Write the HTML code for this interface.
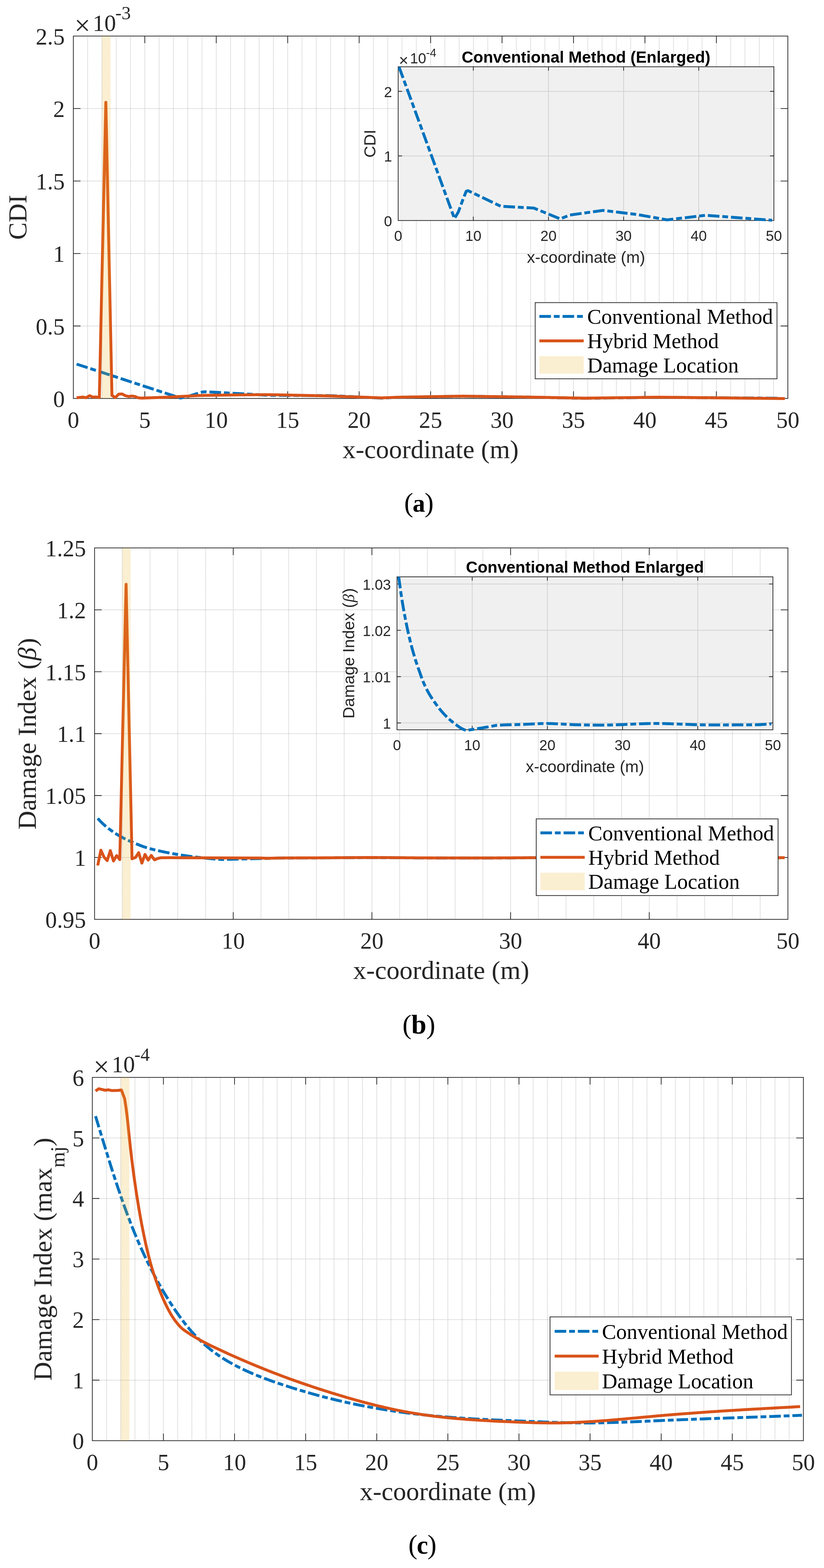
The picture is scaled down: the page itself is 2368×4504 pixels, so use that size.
<!DOCTYPE html>
<html lang="en"><head><meta charset="utf-8"><title>Damage index comparison</title>
<style>
html,body{margin:0;padding:0;background:#fff}
body{width:2368px;height:4504px;overflow:hidden}
svg{display:block}
.ser{font-family:"Liberation Serif","Times New Roman",serif}
.san{font-family:"Liberation Sans",Arial,Helvetica,sans-serif}
.tk{fill:#262626}
.ax{fill:none;stroke:#262626}
.gr{fill:none;stroke:#000;stroke-opacity:.135;stroke-width:2}
.mg{fill:none;stroke:#000;stroke-opacity:.25;stroke-width:2.1;stroke-dasharray:2 2.07}
.cap{font-family:"Liberation Serif","Times New Roman",serif;fill:#000}
</style></head><body>
<svg width="2368" height="4504" viewBox="0 0 2368 4504">
<rect width="2368" height="4504" fill="#fff"/>
<g>
<path class="mg" d="M251.87 103.6V1144.6M292.93 103.6V1144.6M334 103.6V1144.6M375.06 103.6V1144.6M457.2 103.6V1144.6M498.26 103.6V1144.6M539.33 103.6V1144.6M580.39 103.6V1144.6M662.53 103.6V1144.6M703.59 103.6V1144.6M744.66 103.6V1144.6M785.72 103.6V1144.6M867.86 103.6V1144.6M908.92 103.6V1144.6M949.99 103.6V1144.6M991.05 103.6V1144.6M1073.19 103.6V1144.6M1114.25 103.6V1144.6M1155.32 103.6V1144.6M1196.38 103.6V1144.6M1278.52 103.6V1144.6M1319.58 103.6V1144.6M1360.65 103.6V1144.6M1401.71 103.6V1144.6M1483.85 103.6V1144.6M1524.91 103.6V1144.6M1565.98 103.6V1144.6M1607.04 103.6V1144.6M1689.18 103.6V1144.6M1730.24 103.6V1144.6M1771.31 103.6V1144.6M1812.37 103.6V1144.6M1894.51 103.6V1144.6M1935.57 103.6V1144.6M1976.64 103.6V1144.6M2017.7 103.6V1144.6M2099.84 103.6V1144.6M2140.9 103.6V1144.6M2181.97 103.6V1144.6M2223.03 103.6V1144.6"/>
<path class="gr" d="M416.13 103.6V1144.6M621.46 103.6V1144.6M826.79 103.6V1144.6M1032.12 103.6V1144.6M1237.45 103.6V1144.6M1442.78 103.6V1144.6M1648.11 103.6V1144.6M1853.44 103.6V1144.6M2058.77 103.6V1144.6M210.8 936.4H2264.1M210.8 728.2H2264.1M210.8 520H2264.1M210.8 311.8H2264.1"/>
<path class="ax" stroke-width="2.1" d="M416.13 1144.6v-20.5M416.13 103.6v20.5M621.46 1144.6v-20.5M621.46 103.6v20.5M826.79 1144.6v-20.5M826.79 103.6v20.5M1032.12 1144.6v-20.5M1032.12 103.6v20.5M1237.45 1144.6v-20.5M1237.45 103.6v20.5M1442.78 1144.6v-20.5M1442.78 103.6v20.5M1648.11 1144.6v-20.5M1648.11 103.6v20.5M1853.44 1144.6v-20.5M1853.44 103.6v20.5M2058.77 1144.6v-20.5M2058.77 103.6v20.5M210.8 936.4h20.5M2264.1 936.4h-20.5M210.8 728.2h20.5M2264.1 728.2h-20.5M210.8 520h20.5M2264.1 520h-20.5M210.8 311.8h20.5M2264.1 311.8h-20.5"/>
<rect class="ax" stroke-width="2.1" x="210.8" y="103.6" width="2053.3" height="1041"/>
<polyline fill="none" stroke="#0072BD" stroke-width="8.3" stroke-linejoin="round" stroke-dasharray="33.3 8.33 16.67 8.33" points="220.13,1045.83 518.38,1143.35 539.74,1139.02 563.97,1131.28 582.45,1125.78 592.71,1125.36 772.17,1135.44 952.04,1136.56 1096.18,1143.56 1148.34,1141.1 1329.85,1138.06 1517.11,1140.73 1680.14,1144.18 1892.04,1141.23 2235.35,1143.98"/>
<polyline fill="none" stroke="#D95319" stroke-width="8.3" stroke-linejoin="round" points="220.12,1142.31 237.9,1140.69 247.76,1142.31 257.45,1136.48 266.81,1140.69 276.09,1140.44 285.46,1142.1 304.14,293.89 321.68,1135.86 331.53,1141.89 341.39,1132.11 350.84,1131.69 359.87,1136.48 369.31,1138.77 378.76,1137.52 387.79,1138.77 397.24,1142.73 406.68,1143.52 479.78,1140.85 583.27,1135.73 683.06,1134.4 761.08,1133.65 799.69,1134.19 949.99,1137.52 1096.59,1142.93 1148.34,1140.94 1329.85,1137.94 1517.11,1140.6 1680.14,1143.77 1791.84,1142.31 1892.04,1141.02 2058.77,1142.73 2255.48,1144.93"/>
<rect x="292.93" y="103.6" width="24.64" height="1041" fill="#EDB120" fill-opacity="0.2"/>
<g class="ser tk" font-size="66.7">
<g text-anchor="middle">
<text x="210.8" y="1228.9">0</text>
<text x="416.13" y="1228.9">5</text>
<text x="621.46" y="1228.9">10</text>
<text x="826.79" y="1228.9">15</text>
<text x="1032.12" y="1228.9">20</text>
<text x="1237.45" y="1228.9">25</text>
<text x="1442.78" y="1228.9">30</text>
<text x="1648.11" y="1228.9">35</text>
<text x="1853.44" y="1228.9">40</text>
<text x="2058.77" y="1228.9">45</text>
<text x="2264.1" y="1228.9">50</text>
</g><g text-anchor="end">
<text x="186" y="1168.7">0</text>
<text x="186" y="960.5">0.5</text>
<text x="186" y="752.3">1</text>
<text x="186" y="544.1">1.5</text>
<text x="186" y="335.9">2</text>
<text x="186" y="127.7">2.5</text>
</g>
<text x="214.1" y="99.6" font-size="81">×</text>
<text x="266.6" y="88.8">10</text>
<text x="331.5" y="55.3" font-size="53.3">-3</text>
</g>
<text class="ser tk" font-size="75" text-anchor="middle" x="1237.45" y="1315.8">x-coordinate (m)</text>
<text class="ser tk" font-size="75" text-anchor="middle" transform="translate(76.1 624.1) rotate(-90)">CDI</text>
</g>
<g>
<rect x="1144.3" y="191.8" width="1079.7" height="441.6" fill="#f0f0f0"/>
<path class="gr" d="M1360.24 191.8V633.4M1576.18 191.8V633.4M1792.12 191.8V633.4M2008.06 191.8V633.4M1144.3 447.9H2224M1144.3 262.4H2224"/>
<path class="ax" stroke-width="2.1" d="M1360.24 633.4v-11.2M1360.24 191.8v11.2M1576.18 633.4v-11.2M1576.18 191.8v11.2M1792.12 633.4v-11.2M1792.12 191.8v11.2M2008.06 633.4v-11.2M2008.06 191.8v11.2M1144.3 447.9h11.2M2224 447.9h-11.2M1144.3 262.4h11.2M2224 262.4h-11.2"/>
<rect class="ax" stroke-width="2.1" x="1144.3" y="191.8" width="1079.7" height="441.6"/>
<polyline fill="none" stroke="#0072BD" stroke-width="8.3" stroke-linejoin="round" stroke-dasharray="33.3 8.33 16.67 8.33" points="1146.89,192.65 1306.04,627.84 1317.27,608.54 1330.01,574.04 1339.73,549.55 1345.12,547.7 1439.49,592.59 1534.07,597.6 1609.87,628.76 1637.29,617.82 1732.74,604.28 1831.21,616.15 1916.93,631.55 2028.36,618.37 2218.6,632.66"/>
<g class="san tk" font-size="41.7">
<g text-anchor="middle">
<text x="1144.3" y="692">0</text>
<text x="1360.24" y="692">10</text>
<text x="1576.18" y="692">20</text>
<text x="1792.12" y="692">30</text>
<text x="2008.06" y="692">40</text>
<text x="2224" y="692">50</text>
</g><g text-anchor="end">
<text x="1126.8" y="649.6">0</text>
<text x="1126.8" y="464.1">1</text>
<text x="1126.8" y="278.6">2</text>
</g>
<text x="1146.3" y="188.9" font-size="46.7">×</text>
<text x="1178.3" y="181.9">10</text>
<text x="1224.3" y="162.7" font-size="33.3">-4</text>
</g>
<text class="san tk" font-size="46.7" text-anchor="middle" x="1684.15" y="754.6">x-coordinate (m)</text>
<text class="san tk" font-size="46.7" text-anchor="middle" transform="translate(1079.1 412.6) rotate(-90)">CDI</text>
<text class="san" font-weight="bold" font-size="46.46" text-anchor="middle" x="1684.15" y="180.2">Conventional Method (Enlarged)</text>
</g>
<g>
<rect x="1538" y="869.3" width="694.9" height="218.8" fill="#fff" stroke="#262626" stroke-width="2.1"/>
<path fill="none" stroke="#0072BD" stroke-width="8.3" stroke-dasharray="33.3 8.33 16.67 8.33" d="M1550 908.9H1677.4"/>
<path fill="none" stroke="#D95319" stroke-width="8.3" d="M1550 979.1H1677.4"/>
<rect x="1550" y="1023.05" width="127.4" height="50.5" fill="#EDB120" fill-opacity="0.2"/>
<g class="ser" fill="#000" font-size="61">
<text x="1687.6" y="930.1">Conventional Method</text>
<text x="1687.6" y="1000.3">Hybrid Method</text>
<text x="1687.6" y="1069.5">Damage Location</text>
</g></g>
<g>
<path class="mg" d="M351.5 1573.9V2640.8M431.2 1573.9V2640.8M510.9 1573.9V2640.8M590.6 1573.9V2640.8M750 1573.9V2640.8M829.7 1573.9V2640.8M909.4 1573.9V2640.8M989.1 1573.9V2640.8M1148.5 1573.9V2640.8M1228.2 1573.9V2640.8M1307.9 1573.9V2640.8M1387.6 1573.9V2640.8M1547 1573.9V2640.8M1626.7 1573.9V2640.8M1706.4 1573.9V2640.8M1786.1 1573.9V2640.8M1945.5 1573.9V2640.8M2025.2 1573.9V2640.8M2104.9 1573.9V2640.8M2184.6 1573.9V2640.8"/>
<path class="gr" d="M670.3 1573.9V2640.8M1068.8 1573.9V2640.8M1467.3 1573.9V2640.8M1865.8 1573.9V2640.8M271.8 2462.98H2264.3M271.8 2285.17H2264.3M271.8 2107.35H2264.3M271.8 1929.53H2264.3M271.8 1751.72H2264.3"/>
<path class="ax" stroke-width="2.1" d="M670.3 2640.8v-20.5M670.3 1573.9v20.5M1068.8 2640.8v-20.5M1068.8 1573.9v20.5M1467.3 2640.8v-20.5M1467.3 1573.9v20.5M1865.8 2640.8v-20.5M1865.8 1573.9v20.5M271.8 2462.98h20.5M2264.3 2462.98h-20.5M271.8 2285.17h20.5M2264.3 2285.17h-20.5M271.8 2107.35h20.5M2264.3 2107.35h-20.5M271.8 1929.53h20.5M2264.3 1929.53h-20.5M271.8 1751.72h20.5M2264.3 1751.72h-20.5"/>
<rect class="ax" stroke-width="2.1" x="271.8" y="1573.9" width="1992.5" height="1066.9"/>
<polyline fill="none" stroke="#0072BD" stroke-width="8.3" stroke-linejoin="round" stroke-dasharray="33.3 8.33 16.67 8.33" points="280.85,2350.78 284.83,2355.14 288.82,2359.3 292.76,2363.29 296.75,2367.09 300.73,2370.68 304.68,2374.1 308.66,2377.34 312.65,2380.44 316.63,2383.42 320.58,2386.33 324.56,2389.17 328.55,2391.89 332.49,2394.48 336.48,2396.97 340.46,2399.36 344.41,2401.66 348.39,2403.88 352.38,2406.02 356.36,2408.09 360.31,2410.09 364.29,2412.01 368.28,2413.88 372.22,2415.69 376.21,2417.45 380.19,2419.14 384.14,2420.79 388.12,2422.41 392.11,2424.03 396.09,2425.67 400.04,2427.32 404.02,2428.92 408.01,2430.43 411.95,2431.83 415.94,2433.16 419.92,2434.44 423.87,2435.65 427.85,2436.81 431.84,2437.93 435.78,2439 439.77,2440.02 443.75,2441.01 447.74,2441.97 451.68,2442.9 455.67,2443.79 459.65,2444.66 463.6,2445.51 467.58,2446.34 471.57,2447.16 475.51,2447.97 479.5,2448.77 483.48,2449.56 487.47,2450.33 491.41,2451.09 495.4,2451.82 499.38,2452.53 503.33,2453.23 507.31,2453.91 511.3,2454.58 515.24,2455.23 519.23,2455.86 523.21,2456.48 527.16,2457.09 531.14,2457.68 535.13,2458.26 539.11,2458.83 543.06,2459.38 547.04,2459.91 551.03,2460.42 554.97,2460.91 558.96,2461.39 562.94,2461.86 566.89,2462.32 570.87,2462.78 574.86,2463.24 578.84,2463.68 582.79,2464.12 586.77,2464.55 590.76,2464.97 594.7,2465.38 598.69,2465.79 602.67,2466.19 606.62,2466.59 610.6,2466.95 614.59,2467.28 618.57,2467.57 622.52,2467.85 626.5,2468.11 630.49,2468.35 634.44,2468.56 638.42,2468.74 648.42,2468.52 658.38,2468.3 668.39,2468.07 678.35,2467.84 688.35,2467.61 698.35,2467.37 708.32,2467.14 718.32,2466.9 728.32,2466.66 738.28,2466.42 748.29,2466.17 758.25,2465.93 768.25,2465.67 778.25,2465.37 788.22,2465.08 798.22,2464.85 808.18,2464.73 818.18,2464.65 828.19,2464.58 838.15,2464.52 848.15,2464.47 858.15,2464.43 868.12,2464.39 878.12,2464.35 888.08,2464.32 898.08,2464.29 908.08,2464.25 918.05,2464.22 928.05,2464.18 938.05,2464.13 948.01,2464.07 958.02,2464.01 967.98,2463.94 977.98,2463.86 987.98,2463.78 997.95,2463.71 1007.95,2463.64 1017.91,2463.57 1027.91,2463.51 1037.92,2463.47 1047.88,2463.43 1057.88,2463.41 1067.88,2463.41 1077.85,2463.43 1087.85,2463.46 1097.81,2463.51 1107.81,2463.56 1117.82,2463.63 1127.78,2463.7 1137.78,2463.78 1147.74,2463.87 1157.75,2463.95 1167.75,2464.03 1177.71,2464.11 1187.71,2464.19 1197.71,2464.26 1207.68,2464.32 1217.68,2464.37 1227.64,2464.4 1237.64,2464.43 1247.65,2464.46 1257.61,2464.49 1267.61,2464.52 1277.61,2464.54 1287.58,2464.57 1297.58,2464.59 1307.54,2464.61 1317.54,2464.62 1327.55,2464.64 1337.51,2464.65 1347.51,2464.65 1357.47,2464.65 1367.48,2464.65 1377.48,2464.63 1387.44,2464.61 1397.44,2464.58 1407.45,2464.55 1417.41,2464.51 1427.41,2464.46 1437.37,2464.41 1447.38,2464.35 1457.38,2464.3 1467.34,2464.24 1477.34,2464.17 1487.3,2464.11 1497.31,2464.04 1507.31,2463.98 1517.27,2463.92 1527.27,2463.85 1537.28,2463.79 1547.24,2463.73 1557.24,2463.68 1567.2,2463.62 1577.21,2463.57 1587.21,2463.53 1597.17,2463.49 1607.17,2463.46 1617.14,2463.44 1627.14,2463.42 1637.14,2463.41 1647.1,2463.41 1657.11,2463.42 1667.11,2463.43 1677.07,2463.45 1687.07,2463.48 1697.04,2463.51 1707.04,2463.55 1717.04,2463.59 1727,2463.64 1737,2463.69 1747.01,2463.74 1756.97,2463.8 1766.97,2463.85 1776.93,2463.91 1786.94,2463.97 1796.94,2464.02 1806.9,2464.08 1816.9,2464.14 1826.87,2464.19 1836.87,2464.24 1846.87,2464.29 1856.83,2464.34 1866.84,2464.38 1876.84,2464.41 1886.8,2464.45 1896.8,2464.47 1906.77,2464.49 1916.77,2464.51 1926.77,2464.51 1936.73,2464.51 1946.74,2464.51 1956.7,2464.51 1966.7,2464.51 1976.7,2464.51 1986.67,2464.51 1996.67,2464.51 2006.67,2464.5 2016.63,2464.5 2026.63,2464.5 2036.6,2464.49 2046.6,2464.49 2056.6,2464.49 2066.56,2464.48 2076.57,2464.48 2086.57,2464.47 2096.53,2464.46 2106.53,2464.46 2116.5,2464.45 2126.5,2464.44 2136.5,2464.43 2146.46,2464.43 2156.47,2464.42 2166.43,2464.41 2176.43,2464.39 2186.43,2464.35 2196.4,2464.29 2206.4,2464.21 2216.4,2464.11 2226.36,2464.01 2236.37,2463.91 2246.33,2463.8"/>
<polyline fill="none" stroke="#D95319" stroke-width="8.3" stroke-linejoin="round" points="280.86,2486.03 289.91,2442.14 298.98,2461.92 308.02,2472.05 317.07,2443.25 326.16,2473.19 335.2,2457.65 344.25,2469.17 362.38,1678.46 379.4,2466.97 389.52,2462.98 398.52,2449.26 407.69,2479.38 416.69,2454.34 425.78,2470.52 434.79,2457.22 443.87,2469.85 452.92,2466.08 461.88,2463.87 490.98,2463.69 590.6,2464.05 670.3,2464.41 750,2464.58 768.25,2465.49 778.25,2465.19 788.22,2464.9 798.22,2464.67 808.18,2464.55 818.18,2464.47 828.19,2464.4 838.15,2464.35 848.15,2464.29 858.15,2464.25 868.12,2464.21 878.12,2464.18 888.08,2464.14 898.08,2464.11 908.08,2464.08 918.05,2464.04 928.05,2464 938.05,2463.95 948.01,2463.89 958.02,2463.83 967.98,2463.76 977.98,2463.68 987.98,2463.61 997.95,2463.53 1007.95,2463.46 1017.91,2463.39 1027.91,2463.34 1037.92,2463.29 1047.88,2463.25 1057.88,2463.23 1067.88,2463.23 1077.85,2463.25 1087.85,2463.28 1097.81,2463.33 1107.81,2463.39 1117.82,2463.45 1127.78,2463.53 1137.78,2463.61 1147.74,2463.69 1157.75,2463.77 1167.75,2463.85 1177.71,2463.94 1187.71,2464.01 1197.71,2464.08 1207.68,2464.14 1217.68,2464.19 1227.64,2464.23 1237.64,2464.26 1247.65,2464.28 1257.61,2464.31 1267.61,2464.34 1277.61,2464.36 1287.58,2464.39 1297.58,2464.41 1307.54,2464.43 1317.54,2464.45 1327.55,2464.46 1337.51,2464.47 1347.51,2464.48 1357.47,2464.48 1367.48,2464.47 1377.48,2464.46 1387.44,2464.43 1397.44,2464.41 1407.45,2464.37 1417.41,2464.33 1427.41,2464.28 1437.37,2464.23 1447.38,2464.18 1457.38,2464.12 1467.34,2464.06 1477.34,2464 1487.3,2463.93 1497.31,2463.87 1507.31,2463.8 1517.27,2463.74 1527.27,2463.67 1537.28,2463.61 1547.24,2463.55 1557.24,2463.5 1567.2,2463.45 1577.21,2463.4 1587.21,2463.35 1597.17,2463.32 1607.17,2463.28 1617.14,2463.26 1627.14,2463.24 1637.14,2463.23 1647.1,2463.23 1657.11,2463.24 1667.11,2463.25 1677.07,2463.28 1687.07,2463.3 1697.04,2463.34 1707.04,2463.37 1717.04,2463.42 1727,2463.46 1737,2463.51 1747.01,2463.56 1756.97,2463.62 1766.97,2463.67 1776.93,2463.73 1786.94,2463.79 1796.94,2463.85 1806.9,2463.9 1816.9,2463.96 1826.87,2464.01 1836.87,2464.06 1846.87,2464.11 1856.83,2464.16 1866.84,2464.2 1876.84,2464.24 1886.8,2464.27 1896.8,2464.29 1906.77,2464.31 1916.77,2464.33 1926.77,2464.33 1936.73,2464.33 1946.74,2464.33 1956.7,2464.33 1966.7,2464.33 1976.7,2464.33 1986.67,2464.33 1996.67,2464.33 2006.67,2464.33 2016.63,2464.32 2026.63,2464.32 2036.6,2464.32 2046.6,2464.31 2056.6,2464.31 2066.56,2464.3 2076.57,2464.3 2086.57,2464.29 2096.53,2464.29 2106.53,2464.28 2116.5,2464.27 2126.5,2464.26 2136.5,2464.26 2146.46,2464.25 2156.47,2464.24 2166.43,2464.23 2176.43,2464.21 2186.43,2464.17 2196.4,2464.11 2206.4,2464.03 2216.4,2463.94 2226.36,2463.83 2236.37,2463.73 2246.33,2463.62 2255.13,2463.69"/>
<rect x="351.5" y="1573.9" width="23.91" height="1066.9" fill="#EDB120" fill-opacity="0.2"/>
<g class="ser tk" font-size="66.7">
<g text-anchor="middle">
<text x="271.8" y="2725.1">0</text>
<text x="670.3" y="2725.1">10</text>
<text x="1068.8" y="2725.1">20</text>
<text x="1467.3" y="2725.1">30</text>
<text x="1865.8" y="2725.1">40</text>
<text x="2264.3" y="2725.1">50</text>
</g><g text-anchor="end">
<text x="247" y="2664.9">0.95</text>
<text x="247" y="2487.08">1</text>
<text x="247" y="2309.27">1.05</text>
<text x="247" y="2131.45">1.1</text>
<text x="247" y="1953.63">1.15</text>
<text x="247" y="1775.82">1.2</text>
<text x="247" y="1598">1.25</text>
</g>
</g>
<text class="ser tk" font-size="75" text-anchor="middle" x="1268.05" y="2811.8">x-coordinate (m)</text>
<text class="ser tk" font-size="75" text-anchor="middle" transform="translate(103 2107.85) rotate(-90)">Damage Index <tspan dx="2">(</tspan><tspan font-style="italic" dx="1">β</tspan><tspan dx="2">)</tspan></text>
</g>
<g>
<rect x="1140.9" y="1656.9" width="1080.3" height="439.4" fill="#f0f0f0"/>
<path class="gr" d="M1356.96 1656.9V2096.3M1573.02 1656.9V2096.3M1789.08 1656.9V2096.3M2005.14 1656.9V2096.3M1140.9 2076.61H2221.2M1140.9 1943.58H2221.2M1140.9 1810.55H2221.2M1140.9 1677.52H2221.2"/>
<path class="ax" stroke-width="2.1" d="M1356.96 2096.3v-11.2M1356.96 1656.9v11.2M1573.02 2096.3v-11.2M1573.02 1656.9v11.2M1789.08 2096.3v-11.2M1789.08 1656.9v11.2M2005.14 2096.3v-11.2M2005.14 1656.9v11.2M1140.9 2076.61h11.2M2221.2 2076.61h-11.2M1140.9 1943.58h11.2M2221.2 1943.58h-11.2M1140.9 1810.55h11.2M2221.2 1810.55h-11.2M1140.9 1677.52h11.2M2221.2 1677.52h-11.2"/>
<rect class="ax" stroke-width="2.1" x="1140.9" y="1656.9" width="1080.3" height="439.4"/>
<polyline fill="none" stroke="#0072BD" stroke-width="8.3" stroke-linejoin="round" stroke-dasharray="33.3 8.33 16.67 8.33" points="1145.8,1656.9 1147.97,1673.2 1150.13,1688.75 1152.26,1703.7 1154.43,1717.9 1156.59,1731.33 1158.72,1744.12 1160.89,1756.27 1163.05,1767.84 1165.21,1778.99 1167.35,1789.87 1169.51,1800.49 1171.67,1810.68 1173.81,1820.37 1175.97,1829.67 1178.13,1838.6 1180.27,1847.21 1182.43,1855.52 1184.59,1863.55 1186.75,1871.28 1188.89,1878.74 1191.05,1885.95 1193.21,1892.93 1195.35,1899.7 1197.51,1906.27 1199.67,1912.61 1201.81,1918.78 1203.97,1924.85 1206.13,1930.9 1208.29,1937.04 1210.43,1943.19 1212.59,1949.18 1214.75,1954.83 1216.89,1960.07 1219.05,1965.06 1221.21,1969.82 1223.35,1974.37 1225.51,1978.72 1227.67,1982.88 1229.81,1986.88 1231.97,1990.73 1234.13,1994.43 1236.29,1998.02 1238.43,2001.48 1240.59,2004.82 1242.75,2008.07 1244.89,2011.23 1247.05,2014.34 1249.21,2017.41 1251.35,2020.45 1253.51,2023.44 1255.67,2026.39 1257.83,2029.28 1259.97,2032.11 1262.13,2034.85 1264.29,2037.52 1266.43,2040.13 1268.59,2042.68 1270.75,2045.17 1272.89,2047.6 1275.05,2049.97 1277.21,2052.29 1279.35,2054.56 1281.51,2056.79 1283.67,2058.96 1285.83,2061.07 1287.97,2063.12 1290.13,2065.1 1292.29,2067 1294.43,2068.85 1296.59,2070.65 1298.75,2072.41 1300.89,2074.15 1303.05,2075.86 1305.21,2077.55 1307.37,2079.22 1309.51,2080.86 1311.67,2082.47 1313.83,2084.04 1315.97,2085.58 1318.13,2087.1 1320.29,2088.62 1322.43,2090.09 1324.59,2091.47 1326.75,2092.69 1328.92,2093.79 1331.05,2094.82 1333.22,2095.79 1335.38,2096.68 1337.51,2097.47 1339.68,2098.16 1345.1,2097.33 1350.5,2096.5 1355.92,2095.65 1361.32,2094.79 1366.75,2093.92 1372.17,2093.03 1377.57,2092.14 1383,2091.25 1388.42,2090.35 1393.82,2089.45 1399.24,2088.55 1404.64,2087.63 1410.07,2086.66 1415.49,2085.54 1420.89,2084.45 1426.32,2083.59 1431.72,2083.14 1437.14,2082.85 1442.56,2082.59 1447.96,2082.37 1453.39,2082.18 1458.81,2082.02 1464.21,2081.87 1469.64,2081.74 1475.04,2081.62 1480.46,2081.49 1485.88,2081.36 1491.28,2081.23 1496.71,2081.07 1502.13,2080.89 1507.53,2080.68 1512.96,2080.44 1518.36,2080.18 1523.78,2079.9 1529.2,2079.61 1534.6,2079.33 1540.03,2079.06 1545.43,2078.81 1550.85,2078.59 1556.28,2078.42 1561.68,2078.29 1567.1,2078.22 1572.52,2078.22 1577.92,2078.28 1583.35,2078.4 1588.75,2078.57 1594.17,2078.78 1599.6,2079.03 1605,2079.31 1610.42,2079.6 1615.82,2079.91 1621.24,2080.23 1626.67,2080.54 1632.07,2080.84 1637.49,2081.12 1642.92,2081.38 1648.32,2081.6 1653.74,2081.79 1659.14,2081.93 1664.56,2082.03 1669.99,2082.14 1675.39,2082.25 1680.81,2082.35 1686.24,2082.44 1691.64,2082.53 1697.06,2082.62 1702.46,2082.69 1707.88,2082.75 1713.31,2082.8 1718.71,2082.84 1724.13,2082.86 1729.53,2082.86 1734.96,2082.84 1740.38,2082.79 1745.78,2082.71 1751.2,2082.6 1756.63,2082.46 1762.03,2082.31 1767.45,2082.14 1772.85,2081.95 1778.28,2081.74 1783.7,2081.52 1789.1,2081.3 1794.52,2081.06 1799.93,2080.82 1805.35,2080.58 1810.77,2080.34 1816.17,2080.1 1821.6,2079.86 1827.02,2079.63 1832.42,2079.41 1837.84,2079.2 1843.25,2079 1848.67,2078.82 1854.09,2078.66 1859.49,2078.52 1864.92,2078.4 1870.32,2078.31 1875.74,2078.25 1881.16,2078.21 1886.57,2078.21 1891.99,2078.24 1897.41,2078.29 1902.81,2078.37 1908.24,2078.47 1913.64,2078.6 1919.06,2078.74 1924.48,2078.9 1929.89,2079.07 1935.31,2079.25 1940.73,2079.45 1946.13,2079.65 1951.56,2079.86 1956.96,2080.07 1962.38,2080.29 1967.8,2080.5 1973.21,2080.72 1978.63,2080.92 1984.03,2081.13 1989.45,2081.32 1994.88,2081.5 2000.28,2081.67 2005.7,2081.83 2011.12,2081.97 2016.53,2082.08 2021.95,2082.18 2027.35,2082.26 2032.77,2082.31 2038.2,2082.33 2043.6,2082.33 2049.02,2082.33 2054.42,2082.33 2059.85,2082.32 2065.27,2082.32 2070.67,2082.31 2076.09,2082.3 2081.52,2082.3 2086.92,2082.29 2092.34,2082.27 2097.74,2082.26 2103.17,2082.25 2108.59,2082.23 2113.99,2082.21 2119.41,2082.19 2124.84,2082.17 2130.24,2082.15 2135.66,2082.12 2141.06,2082.1 2146.49,2082.07 2151.91,2082.04 2157.31,2082.01 2162.73,2081.98 2168.14,2081.94 2173.56,2081.87 2178.98,2081.72 2184.38,2081.48 2189.81,2081.19 2195.23,2080.84 2200.63,2080.46 2206.05,2080.06 2211.46,2079.66 2216.88,2079.27"/>
<g class="san tk" font-size="41.7">
<g text-anchor="middle">
<text x="1140.9" y="2154.9">0</text>
<text x="1356.96" y="2154.9">10</text>
<text x="1573.02" y="2154.9">20</text>
<text x="1789.08" y="2154.9">30</text>
<text x="2005.14" y="2154.9">40</text>
<text x="2221.2" y="2154.9">50</text>
</g><g text-anchor="end">
<text x="1123.4" y="2092.81">1</text>
<text x="1123.4" y="1959.78">1.01</text>
<text x="1123.4" y="1826.75">1.02</text>
<text x="1123.4" y="1693.72">1.03</text>
</g>
</g>
<text class="san tk" font-size="46.7" text-anchor="middle" x="1681.05" y="2217.5">x-coordinate (m)</text>
<text class="san tk" font-size="46.7" text-anchor="middle" transform="translate(1018.1 1876.6) rotate(-90)">Damage Index <tspan dx="1">(</tspan><tspan font-style="italic" class="ser" dx="1">β</tspan><tspan dx="2">)</tspan></text>
<text class="san" font-weight="bold" font-size="46.46" text-anchor="middle" x="1681.05" y="1645.3">Conventional Method Enlarged</text>
</g>
<g>
<rect x="1541" y="2352.2" width="695" height="220.2" fill="#fff" stroke="#262626" stroke-width="2.1"/>
<path fill="none" stroke="#0072BD" stroke-width="8.3" stroke-dasharray="33.3 8.33 16.67 8.33" d="M1553 2392.4H1680.4"/>
<path fill="none" stroke="#D95319" stroke-width="8.3" d="M1553 2462.6H1680.4"/>
<rect x="1553" y="2506.75" width="127.4" height="50.5" fill="#EDB120" fill-opacity="0.2"/>
<g class="ser" fill="#000" font-size="61">
<text x="1690.6" y="2413.6">Conventional Method</text>
<text x="1690.6" y="2483.8">Hybrid Method</text>
<text x="1690.6" y="2553.2">Damage Location</text>
</g></g>
<g>
<path class="mg" d="M306.17 3094.8V4138.3M347.04 3094.8V4138.3M387.91 3094.8V4138.3M428.78 3094.8V4138.3M510.52 3094.8V4138.3M551.39 3094.8V4138.3M592.26 3094.8V4138.3M633.13 3094.8V4138.3M714.87 3094.8V4138.3M755.74 3094.8V4138.3M796.61 3094.8V4138.3M837.48 3094.8V4138.3M919.22 3094.8V4138.3M960.09 3094.8V4138.3M1000.96 3094.8V4138.3M1041.83 3094.8V4138.3M1123.57 3094.8V4138.3M1164.44 3094.8V4138.3M1205.31 3094.8V4138.3M1246.18 3094.8V4138.3M1327.92 3094.8V4138.3M1368.79 3094.8V4138.3M1409.66 3094.8V4138.3M1450.53 3094.8V4138.3M1532.27 3094.8V4138.3M1573.14 3094.8V4138.3M1614.01 3094.8V4138.3M1654.88 3094.8V4138.3M1736.62 3094.8V4138.3M1777.49 3094.8V4138.3M1818.36 3094.8V4138.3M1859.23 3094.8V4138.3M1940.97 3094.8V4138.3M1981.84 3094.8V4138.3M2022.71 3094.8V4138.3M2063.58 3094.8V4138.3M2145.32 3094.8V4138.3M2186.19 3094.8V4138.3M2227.06 3094.8V4138.3M2267.93 3094.8V4138.3"/>
<path class="gr" d="M469.65 3094.8V4138.3M674 3094.8V4138.3M878.35 3094.8V4138.3M1082.7 3094.8V4138.3M1287.05 3094.8V4138.3M1491.4 3094.8V4138.3M1695.75 3094.8V4138.3M1900.1 3094.8V4138.3M2104.45 3094.8V4138.3M265.3 3964.38H2308.8M265.3 3790.47H2308.8M265.3 3616.55H2308.8M265.3 3442.63H2308.8M265.3 3268.72H2308.8"/>
<path class="ax" stroke-width="2.1" d="M469.65 4138.3v-20.5M469.65 3094.8v20.5M674 4138.3v-20.5M674 3094.8v20.5M878.35 4138.3v-20.5M878.35 3094.8v20.5M1082.7 4138.3v-20.5M1082.7 3094.8v20.5M1287.05 4138.3v-20.5M1287.05 3094.8v20.5M1491.4 4138.3v-20.5M1491.4 3094.8v20.5M1695.75 4138.3v-20.5M1695.75 3094.8v20.5M1900.1 4138.3v-20.5M1900.1 3094.8v20.5M2104.45 4138.3v-20.5M2104.45 3094.8v20.5M265.3 3964.38h20.5M2308.8 3964.38h-20.5M265.3 3790.47h20.5M2308.8 3790.47h-20.5M265.3 3616.55h20.5M2308.8 3616.55h-20.5M265.3 3442.63h20.5M2308.8 3442.63h-20.5M265.3 3268.72h20.5M2308.8 3268.72h-20.5"/>
<rect class="ax" stroke-width="2.1" x="265.3" y="3094.8" width="2043.5" height="1043.5"/>
<polyline fill="none" stroke="#0072BD" stroke-width="8.3" stroke-linejoin="round" stroke-dasharray="33.3 8.33 16.67 8.33" points="274.58,3206.1 283.85,3236.68 293.13,3267.17 302.41,3297.44 311.69,3327.35 320.92,3356.76 330.2,3385.54 339.48,3413.54 348.76,3440.66 358.03,3466.85 367.27,3492.07 376.55,3516.31 385.83,3539.52 395.1,3561.72 404.38,3582.95 413.66,3603.27 422.89,3622.75 432.17,3641.43 441.45,3659.38 450.73,3676.65 460,3693.29 469.24,3709.32 478.52,3724.75 487.8,3739.59 497.07,3753.86 506.35,3767.56 515.63,3780.67 524.87,3793.19 534.14,3805.12 543.42,3816.43 552.7,3827.11 561.98,3837.17 571.21,3846.6 580.49,3855.44 589.77,3863.75 599.04,3871.56 608.32,3878.93 617.56,3885.9 626.84,3892.48 636.11,3898.71 645.39,3904.61 654.67,3910.2 663.95,3915.52 673.18,3920.58 682.46,3925.41 691.74,3930.04 701.02,3934.49 710.29,3938.77 719.53,3942.89 728.81,3946.87 738.08,3950.71 747.36,3954.42 756.64,3958.02 765.92,3961.5 775.15,3964.89 784.43,3968.19 793.71,3971.4 802.99,3974.55 812.26,3977.64 821.5,3980.67 830.78,3983.66 840.05,3986.59 849.33,3989.47 858.61,3992.31 867.89,3995.09 877.12,3997.82 886.4,4000.5 895.68,4003.13 904.96,4005.71 914.23,4008.24 923.47,4010.72 932.75,4013.15 942.03,4015.52 951.3,4017.84 960.58,4020.12 969.82,4022.34 979.09,4024.51 988.37,4026.63 997.65,4028.69 1006.93,4030.71 1016.2,4032.68 1025.44,4034.59 1034.72,4036.46 1044,4038.28 1053.27,4040.06 1062.55,4041.78 1071.79,4043.46 1081.07,4045.1 1090.34,4046.68 1099.62,4048.23 1108.9,4049.73 1118.18,4051.18 1127.41,4052.59 1136.69,4053.96 1145.97,4055.29 1155.24,4056.57 1164.52,4057.82 1173.76,4059.02 1183.04,4060.19 1192.31,4061.31 1201.59,4062.4 1210.87,4063.44 1220.15,4064.45 1229.38,4065.43 1238.66,4066.36 1247.94,4067.26 1257.21,4068.12 1266.49,4068.95 1275.73,4069.75 1285.01,4070.51 1294.28,4071.24 1303.56,4071.93 1312.84,4072.59 1322.12,4073.23 1331.35,4073.84 1340.63,4074.42 1349.91,4074.98 1359.19,4075.52 1368.46,4076.03 1377.7,4076.53 1386.98,4077.01 1396.25,4077.47 1405.53,4077.92 1414.81,4078.35 1424.05,4078.78 1433.32,4079.19 1442.6,4079.6 1451.88,4080 1461.16,4080.39 1470.43,4080.78 1479.67,4081.17 1488.95,4081.56 1498.23,4081.95 1507.5,4082.34 1516.78,4082.73 1526.02,4083.12 1535.29,4083.5 1544.57,4083.87 1553.85,4084.23 1563.13,4084.59 1572.4,4084.92 1581.64,4085.25 1590.92,4085.56 1600.2,4085.85 1609.47,4086.11 1618.75,4086.36 1627.99,4086.58 1637.27,4086.77 1646.54,4086.94 1655.82,4087.08 1665.1,4087.18 1674.37,4087.25 1683.61,4087.28 1692.89,4087.27 1702.17,4087.23 1711.44,4087.15 1720.72,4087.02 1729.96,4086.87 1739.24,4086.68 1748.51,4086.46 1757.79,4086.21 1767.07,4085.94 1776.3,4085.65 1785.58,4085.33 1794.86,4084.99 1804.14,4084.63 1813.41,4084.26 1822.69,4083.88 1831.93,4083.49 1841.21,4083.08 1850.48,4082.67 1859.76,4082.26 1869.04,4081.84 1878.28,4081.43 1887.55,4081.01 1896.83,4080.6 1906.11,4080.2 1915.39,4079.81 1924.66,4079.42 1933.9,4079.04 1943.18,4078.66 1952.45,4078.29 1961.73,4077.92 1971.01,4077.56 1980.25,4077.21 1989.52,4076.86 1998.8,4076.51 2008.08,4076.17 2017.36,4075.83 2026.63,4075.49 2035.87,4075.16 2045.15,4074.83 2054.43,4074.5 2063.7,4074.18 2072.98,4073.85 2082.22,4073.53 2091.49,4073.2 2100.77,4072.88 2110.05,4072.56 2119.33,4072.24 2128.56,4071.91 2137.84,4071.59 2147.12,4071.27 2156.4,4070.94 2165.67,4070.61 2174.95,4070.28 2184.19,4069.95 2193.46,4069.61 2202.74,4069.28 2212.02,4068.93 2221.3,4068.59 2230.53,4068.24 2239.81,4067.88 2249.09,4067.53 2258.37,4067.16 2267.64,4066.79 2276.92,4066.42 2286.16,4066.04 2295.44,4065.65 2304.71,4065.25"/>
<polyline fill="none" stroke="#D95319" stroke-width="8.3" stroke-linejoin="round" points="274.59,3133.93 283.88,3127.32 293.17,3129.58 302.45,3131.67 311.73,3130.45 321.05,3132.54 330.32,3132.37 339.6,3132.19 348.88,3130.8 358.2,3156.02 362.28,3182.61 366.33,3215.31 370.42,3255.9 374.5,3294.23 378.55,3329.32 382.64,3361.38 386.72,3391.15 390.77,3419.02 394.86,3445.24 398.94,3470.28 403.03,3493.91 407.08,3515.94 411.17,3536.79 415.25,3556.51 419.3,3575.07 423.39,3592.51 427.47,3609.06 431.52,3624.63 435.61,3639.1 439.69,3652.45 443.74,3664.93 447.83,3676.72 451.91,3688 455.96,3698.95 460.05,3709.57 464.13,3719.77 468.18,3729.44 472.27,3738.49 476.35,3747.09 480.4,3755.35 484.49,3763.2 488.57,3770.61 492.66,3777.52 496.71,3783.94 500.79,3789.96 504.88,3795.58 508.93,3800.8 513.01,3805.62 517.1,3810.09 521.15,3814.21 525.23,3817.95 535.41,3825.15 545.63,3831.91 555.8,3838.27 566.02,3844.28 576.2,3849.98 586.42,3855.42 596.59,3860.63 606.81,3865.67 616.99,3870.56 627.2,3875.36 637.38,3880.1 647.6,3884.79 657.77,3889.43 667.99,3894.01 678.17,3898.53 688.39,3903.01 698.56,3907.43 708.78,3911.79 718.96,3916.1 729.17,3920.36 739.35,3924.57 749.57,3928.72 759.75,3932.82 769.96,3936.86 780.14,3940.85 790.36,3944.79 800.53,3948.68 810.75,3952.52 820.93,3956.31 831.1,3960.04 841.32,3963.73 851.5,3967.37 861.72,3970.96 871.89,3974.5 882.11,3977.99 892.29,3981.44 902.5,3984.84 912.68,3988.2 922.9,3991.51 933.07,3994.77 943.29,3997.99 953.47,4001.17 963.69,4004.31 973.86,4007.4 984.08,4010.45 994.26,4013.45 1004.47,4016.42 1014.65,4019.33 1024.87,4022.19 1035.05,4025 1045.26,4027.76 1055.44,4030.46 1065.66,4033.09 1075.83,4035.67 1086.05,4038.18 1096.23,4040.63 1106.45,4043.01 1116.62,4045.31 1126.8,4047.55 1137.02,4049.7 1147.19,4051.78 1157.41,4053.78 1167.59,4055.7 1177.8,4057.53 1187.98,4059.27 1198.2,4060.93 1208.38,4062.51 1218.59,4064.02 1228.77,4065.44 1238.99,4066.8 1249.16,4068.08 1259.38,4069.3 1269.56,4070.46 1279.78,4071.55 1289.95,4072.59 1300.17,4073.57 1310.35,4074.5 1320.56,4075.38 1330.74,4076.21 1340.96,4077 1351.13,4077.75 1361.35,4078.46 1371.53,4079.14 1381.75,4079.78 1391.92,4080.38 1402.14,4080.96 1412.32,4081.5 1422.49,4082.03 1432.71,4082.52 1442.89,4083 1453.1,4083.45 1463.28,4083.89 1473.5,4084.32 1483.68,4084.73 1493.89,4085.12 1504.07,4085.51 1514.29,4085.88 1524.46,4086.22 1534.68,4086.54 1544.86,4086.81 1555.08,4087.03 1565.25,4087.21 1575.47,4087.32 1585.65,4087.36 1595.86,4087.34 1606.04,4087.23 1616.26,4087.06 1626.43,4086.82 1636.65,4086.52 1646.83,4086.15 1657.05,4085.73 1667.22,4085.25 1677.44,4084.72 1687.62,4084.14 1697.83,4083.51 1708.01,4082.84 1718.19,4082.13 1728.41,4081.39 1738.58,4080.61 1748.8,4079.8 1758.98,4078.96 1769.19,4078.1 1779.37,4077.22 1789.59,4076.32 1799.76,4075.4 1809.98,4074.48 1820.16,4073.54 1830.38,4072.6 1840.55,4071.65 1850.77,4070.71 1860.95,4069.77 1871.16,4068.83 1881.34,4067.9 1891.56,4066.99 1901.73,4066.09 1911.95,4065.21 1922.13,4064.35 1932.35,4063.5 1942.52,4062.68 1952.74,4061.86 1962.92,4061.07 1973.13,4060.29 1983.31,4059.52 1993.53,4058.77 2003.71,4058.03 2013.88,4057.3 2024.1,4056.59 2034.28,4055.89 2044.49,4055.2 2054.67,4054.52 2064.89,4053.85 2075.06,4053.2 2085.28,4052.55 2095.46,4051.91 2105.68,4051.29 2115.85,4050.67 2126.07,4050.05 2136.25,4049.45 2146.46,4048.85 2156.64,4048.26 2166.86,4047.67 2177.04,4047.09 2187.25,4046.52 2197.43,4045.95 2207.65,4045.38 2217.82,4044.82 2228.04,4044.26 2238.22,4043.7 2248.44,4043.15 2258.61,4042.59 2268.83,4042.04 2279.01,4041.49 2289.22,4040.94 2299.4,4040.38"/>
<rect x="347.04" y="3094.8" width="24.52" height="1043.5" fill="#EDB120" fill-opacity="0.2"/>
<g class="ser tk" font-size="66.7">
<g text-anchor="middle">
<text x="265.3" y="4222.6">0</text>
<text x="469.65" y="4222.6">5</text>
<text x="674" y="4222.6">10</text>
<text x="878.35" y="4222.6">15</text>
<text x="1082.7" y="4222.6">20</text>
<text x="1287.05" y="4222.6">25</text>
<text x="1491.4" y="4222.6">30</text>
<text x="1695.75" y="4222.6">35</text>
<text x="1900.1" y="4222.6">40</text>
<text x="2104.45" y="4222.6">45</text>
<text x="2308.8" y="4222.6">50</text>
</g><g text-anchor="end">
<text x="241.5" y="4162.1">0</text>
<text x="241.5" y="3988.18">1</text>
<text x="241.5" y="3814.27">2</text>
<text x="241.5" y="3640.35">3</text>
<text x="241.5" y="3466.43">4</text>
<text x="241.5" y="3292.52">5</text>
<text x="241.5" y="3118.6">6</text>
</g>
<text x="268.6" y="3090.8" font-size="81">×</text>
<text x="321.1" y="3080">10</text>
<text x="386" y="3046.5" font-size="53.3">-4</text>
</g>
<text class="ser tk" font-size="75" text-anchor="middle" x="1287.05" y="4309.3">x-coordinate (m)</text>
<text class="ser tk" font-size="75" text-anchor="middle" transform="translate(148.4 3617.05) rotate(-90)">Damage Index (max<tspan font-size="57.5" dy="37">mj</tspan><tspan dy="-37">)</tspan></text>
</g>
<g>
<rect x="1580.7" y="3782.7" width="693.8" height="224" fill="#fff" stroke="#262626" stroke-width="2.1"/>
<path fill="none" stroke="#0072BD" stroke-width="8.3" stroke-dasharray="33.3 8.33 16.67 8.33" d="M1594 3824.1H1720.4"/>
<path fill="none" stroke="#D95319" stroke-width="8.3" d="M1594 3895.3H1720.4"/>
<rect x="1594" y="3940.25" width="126.4" height="52.3" fill="#EDB120" fill-opacity="0.2"/>
<g class="ser" fill="#000" font-size="61">
<text x="1730.1" y="3845.7">Conventional Method</text>
<text x="1730.1" y="3916.9">Hybrid Method</text>
<text x="1730.1" y="3988">Damage Location</text>
</g></g>
<text class="cap" font-size="72" text-anchor="middle" x="1203.8" y="1470"><tspan font-size="78">(</tspan><tspan font-weight="bold" font-size="72" dx="-1.6">a</tspan><tspan font-size="78" dx="-1.6">)</tspan></text>
<text class="cap" font-size="72" text-anchor="middle" x="1203.8" y="2968.8"><tspan font-size="78">(</tspan><tspan font-weight="bold" font-size="78" dx="-0.5">b</tspan><tspan font-size="78" dx="-0.5">)</tspan></text>
<text class="cap" font-size="72" text-anchor="middle" x="1214" y="4462.6"><tspan font-size="78">(</tspan><tspan font-weight="bold" font-size="73" dx="-1.6">c</tspan><tspan font-size="78" dx="-1.6">)</tspan></text>
</svg>
</body></html>
